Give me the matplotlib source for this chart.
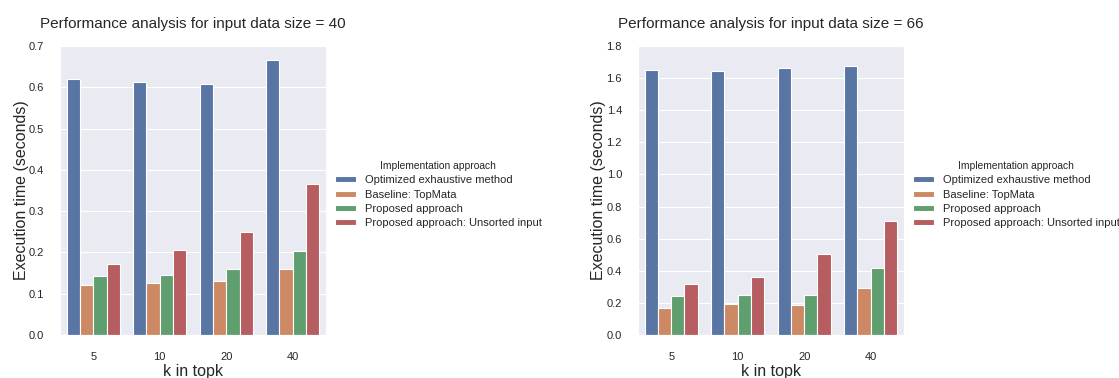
import numpy as np
import matplotlib
matplotlib.use("Agg")
import matplotlib.pyplot as plt
import seaborn as sns

k_values = ["5", "10", "20", "40"]
approaches = ["Optimized exhaustive method", "Baseline: TopMata",
              "Proposed approach", "Proposed approach: Unsorted input"]

# input data size = 40
times_40 = {
    "Optimized exhaustive method": [0.620, 0.613, 0.608, 0.667],
    "Baseline: TopMata": [0.120, 0.127, 0.130, 0.159],
    "Proposed approach": [0.143, 0.145, 0.159, 0.204],
    "Proposed approach: Unsorted input": [0.171, 0.207, 0.249, 0.365],
}
# input data size = 66
times_66 = {
    "Optimized exhaustive method": [1.648, 1.643, 1.660, 1.675],
    "Baseline: TopMata": [0.170, 0.190, 0.185, 0.290],
    "Proposed approach": [0.245, 0.247, 0.252, 0.420],
    "Proposed approach: Unsorted input": [0.315, 0.362, 0.505, 0.710],
}

sns.set_style("darkgrid")
plt.rcParams['font.family'] = ['Liberation Sans', 'DejaVu Sans']
# barplot default saturation of 0.75
colors = [sns.desaturate(c, 0.75) for c in sns.color_palette("deep", 4)]

fig = plt.figure(figsize=(11.19, 3.78), dpi=100)
ax1 = fig.add_axes([0.0536, 0.1138, 0.2377, 0.7646])
ax2 = fig.add_axes([0.5701, 0.1138, 0.2377, 0.7646])


def draw(ax, data, size, ymax, step):
    x = np.arange(len(k_values))
    w = 0.8 / len(approaches)
    for i, name in enumerate(approaches):
        ax.bar(x - 0.4 + w * (i + 0.5), data[name], width=w, color=colors[i],
               edgecolor='white', linewidth=0.8, label=name)
    ax.set_xlim(-0.5, len(k_values) - 0.5)
    ax.set_ylim(0, ymax)
    ax.set_yticks(np.arange(0, ymax + step / 2, step))
    ax.set_xticks(x)
    ax.set_xticklabels(k_values)
    ax.tick_params(axis='y', labelsize=8, pad=8)
    ax.tick_params(axis='x', labelsize=8, pad=9)
    ax.grid(axis='x', visible=False)
    ax.set_title(f"Performance analysis for input data size = {size}",
                 fontsize=11, pad=13)
    ax.set_xlabel("k in topk", fontsize=11.5, labelpad=1)
    ax.set_ylabel("Execution time (seconds)", fontsize=11.5, labelpad=0)
    ax.legend(title="Implementation approach", loc='center left',
              bbox_to_anchor=(1.0, 0.486), frameon=False, fontsize=8,
              title_fontsize=7.4, handlelength=1.9, handleheight=0.45,
              labelspacing=0.4, handletextpad=0.8, borderaxespad=0.4)


draw(ax1, times_40, 40, 0.7, 0.1)
draw(ax2, times_66, 66, 1.8, 0.2)

fig.savefig("out.png", dpi=100)
